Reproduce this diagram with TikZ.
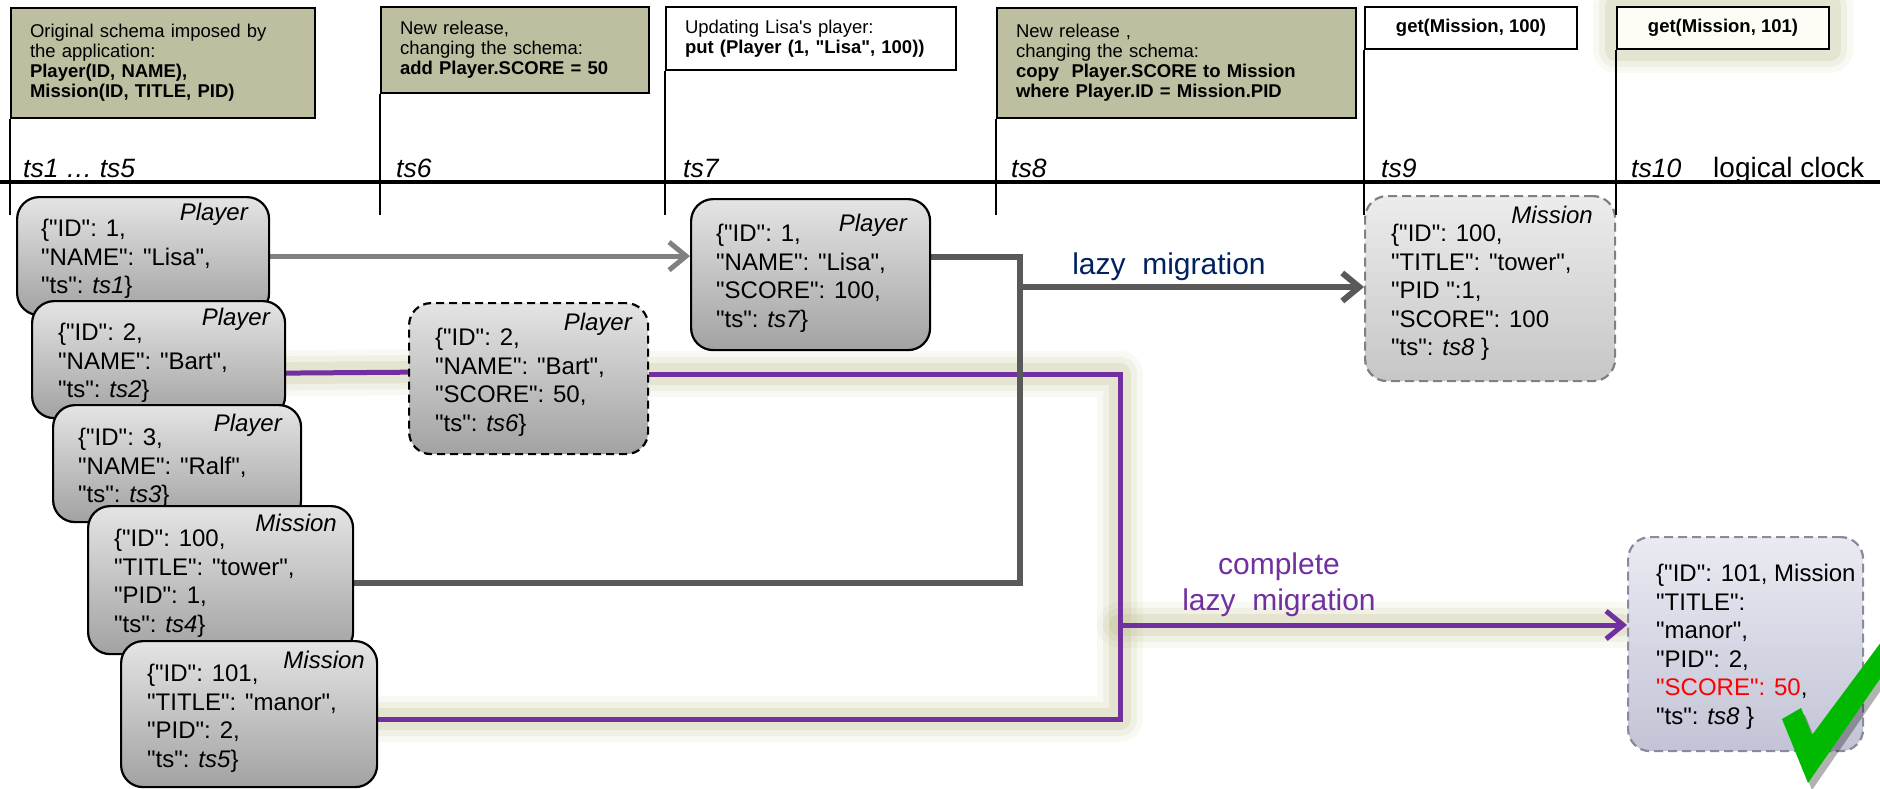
\documentclass[tikz,border=0pt]{standalone}
\usepackage{fontspec}
\setmainfont{Liberation Sans}
\newfontfamily\jf{Liberation Sans}
\usetikzlibrary{arrows.meta}
\pgfdeclarelayer{bg}
\pgfsetlayers{bg,main}
\definecolor{olivebox}{RGB}{190,190,160}
\definecolor{purp}{RGB}{112,48,160}
\definecolor{navy}{RGB}{0,32,96}
\definecolor{glowc}{RGB}{185,185,135}
\definecolor{lgray}{RGB}{128,128,128}
\definecolor{dgray}{RGB}{89,89,89}
\definecolor{chk}{RGB}{0,185,0}
\definecolor{boxtop}{RGB}{228,228,228}
\definecolor{boxbot}{RGB}{162,162,162}
\definecolor{htop}{RGB}{236,236,236}
\definecolor{hbot}{RGB}{198,198,198}
\definecolor{itop}{RGB}{234,234,242}
\definecolor{ibot}{RGB}{194,196,214}
\definecolor{iedge}{RGB}{138,138,158}
\tikzset{
  tbox/.style={draw=black, line width=2pt, fill=olivebox, anchor=north west,
    inner xsep=19pt, inner ysep=0pt, align=left, font=\jf\fontsize{18.5}{20}\selectfont},
  wbox/.style={tbox, fill=white},
  gbox/.style={draw=black, line width=2pt, fill=white, anchor=north west, inner sep=0pt,
    align=center, font=\jf\fontsize{18.5}{20}\selectfont\bfseries},
  tickln/.style={line width=2pt},
  tsl/.style={anchor=base west, inner sep=0pt, font=\jf\fontsize{26.5}{30}\selectfont\itshape},
  dbox/.style={rounded corners=22pt, draw=black, line width=2.2pt, top color=boxtop,
    bottom color=boxbot, anchor=north west, inner sep=0pt},
  hbox/.style={dbox, draw=lgray, dash pattern=on 9pt off 5pt, top color=htop, bottom color=hbot},
  ibox/.style={dbox, draw=iedge, dash pattern=on 9pt off 5pt, top color=itop, bottom color=ibot},
  fbox/.style={dbox, dash pattern=on 8pt off 5pt},
  js/.style={anchor=north west, inner sep=0pt, align=left, font=\jf\fontsize{24}{28.5}\selectfont},
  kind/.style={anchor=base east, inner sep=0pt, font=\jf\fontsize{24}{28}\selectfont\itshape},
  arr/.style={-{Straight Barb[length=17pt,width=28pt]}},
  pline/.style={purp, line width=5pt},
}
\begin{document}
\jf
\begin{tikzpicture}[x=1pt,y=-1pt]
\useasboundingbox (0,0) rectangle (1880,788);

% ---------- top event boxes ----------
\node[tbox, minimum width=304pt, minimum height=110pt, text width=266pt] (s1) at (10,7)
  {Original schema imposed by\\the application:\\\textbf{Player(ID, NAME),}\\\textbf{Mission(ID, TITLE, PID)}};
\node[tbox, minimum width=268pt, minimum height=86pt, text width=230pt] (s2) at (380,6)
  {New release,\\changing the schema:\\\textbf{add Player.SCORE = 50}};
\node[wbox, minimum width=290pt, minimum height=63pt, text width=252pt] (s3) at (665,6)
  {Updating Lisa's player:\\\textbf{put (Player (1, "Lisa", 100))}};
\node[tbox, minimum width=359pt, minimum height=110pt, text width=321pt] (s4) at (996,7)
  {New release ,\\changing the schema:\\\textbf{copy\ \ Player.SCORE to Mission}\\\textbf{where Player.ID = Mission.PID}};
\node[gbox, minimum width=212pt, minimum height=42pt] (s5) at (1364,6) {get(Mission, 100)};

\coordinate (pj) at (1120,625);
\coordinate (gj) at (1020,287);
\coordinate (fin) at (432,372);

% ---------- data boxes ----------
\node[dbox, minimum width=252pt, minimum height=118pt] (A) at (16,196) {};
\node[js] (tA) at (41,219) {\{"ID": 1,\\"NAME": "Lisa",\\"ts": \textit{ts1}\}};
\node[kind] (kA) at (248,220) {Player};

\node[dbox, minimum width=253pt, minimum height=117pt] (B) at (31,300) {};
\node[js] (tB) at (58,323) {\{"ID": 2,\\"NAME": "Bart",\\"ts": \textit{ts2}\}};
\node[kind] (kB) at (270,325) {Player};

\node[dbox, minimum width=248pt, minimum height=117pt] (C) at (52,404) {};
\node[js] (tC) at (78,428) {\{"ID": 3,\\"NAME": "Ralf",\\"ts": \textit{ts3}\}};
\node[kind] (kC) at (282,431) {Player};

\node[dbox, minimum width=265pt, minimum height=148pt] (D) at (87,505) {};
\node[js] (tD) at (114,529) {\{"ID": 100,\\"TITLE": "tower",\\"PID": 1,\\"ts": \textit{ts4}\}};
\node[kind] (kD) at (337,531) {Mission};

\node[dbox, minimum width=256pt, minimum height=146pt] (E) at (120,640) {};
\node[js] (tE) at (147,664) {\{"ID": 101,\\"TITLE": "manor",\\"PID": 2,\\"ts": \textit{ts5}\}};
\node[kind] (kE) at (365,668) {Mission};

\node[fbox, minimum width=239pt, minimum height=151pt] (F) at (408,302) {};
\node[js] (tF) at (435,328) {\{"ID": 2,\\"NAME": "Bart",\\"SCORE": 50,\\"ts": \textit{ts6}\}};
\node[kind] (kF) at (632,330) {Player};

\node[dbox, minimum width=239pt, minimum height=151pt] (G) at (690,198) {};
\node[js] (tG) at (716,224) {\{"ID": 1,\\"NAME": "Lisa",\\"SCORE": 100,\\"ts": \textit{ts7}\}};
\node[kind] (kG) at (907,231) {Player};

\node[hbox, minimum width=250pt, minimum height=185pt] (H) at (1364,195) {};
\node[js] (tH) at (1391,224) {\{"ID": 100,\\"TITLE": "tower",\\"PID ":1,\\"SCORE": 100\\"ts": \textit{ts8} \}};
\node[kind] (kH) at (1593,223) {Mission};

\node[ibox, minimum width=235pt, minimum height=214pt] (I) at (1627,536) {};
\node[js] (tI) at (1656,564) {\{"ID": 101, Mission\\"TITLE":\\"manor",\\"PID": 2,\\\textcolor{red}{"SCORE": 50},\\"ts": \textit{ts8} \}};

% get(Mission,101) box with glow
\node[gbox, minimum width=212pt, minimum height=42pt, fill={rgb,255:red,253;green,253;blue,246}] (s6) at (1616,6) {get(Mission, 101)};

% ---------- background: glows and connectors ----------
\begin{pgfonlayer}{bg}
\foreach \w/\o in {46/0.09, 34/0.14, 22/0.22}{
  \draw[glowc, line width=\w pt, opacity=\o, line join=round, line cap=round]
    ([yshift=-13.5pt]B.east) -- (fin);
  \draw[glowc, line width=\w pt, opacity=\o, line join=round, line cap=round]
    ([yshift=4.5pt]F.east) -| (pj) |- ([yshift=-5pt]E.east);
  \draw[glowc, line width=\w pt, opacity=\o, line join=round, line cap=round]
    (pj) -- ([xshift=-6pt]pj -| I.west);
  \draw[glowc, line width=\w pt, opacity=\o, line join=round]
    (s6.north west) rectangle (s6.south east);
}
\draw[pline, arr] ([yshift=-13.5pt]B.east) -- (fin);
\draw[pline] ([yshift=4.5pt]F.east) -| (pj) |- ([yshift=-5pt]E.east);
\draw[pline, arr] (pj) -- (pj -| I.west);
\draw[lgray, line width=5pt, arr] (A.east) -- (A.east -| G.west);
\draw[dgray, line width=6pt] ([yshift=17.5pt]G.east) -| (gj) |- ([yshift=-3pt]D.east);
\draw[dgray, line width=6pt, arr] (gj) -- (gj -| H.west);
\end{pgfonlayer}

% ---------- timeline ----------
\coordinate (tl0) at (0,182);
\coordinate (tl1) at (1880,182);
\draw[line width=3.5pt] (tl0) -- (tl1);
\coordinate (k1) at (10,215);
\coordinate (k2) at (380,215);
\coordinate (k3) at (665,215);
\coordinate (k4) at (996,215);
\coordinate (k5) at (1364,215);
\coordinate (k6) at (1616,215);
\draw[tickln] (s1.south west) -- (k1);
\draw[tickln] (s2.south west) -- (k2);
\draw[tickln] (s3.south west) -- (k3);
\draw[tickln] (s4.south west) -- (k4);
\draw[tickln] (s5.south west) -- (k5);
\draw[tickln] (s6.south west) -- (k6);

\node[tsl] (l1) at (23,177) {ts1 … ts5};
\node[tsl] (l6) at (396,177) {ts6};
\node[tsl] (l7) at (683,177) {ts7};
\node[tsl] (l8) at (1011,177) {ts8};
\node[tsl] (l9) at (1381,177) {ts9};
\node[tsl] (l10) at (1631,177) {ts10};
\node[anchor=base west, inner sep=0pt, font=\jf\fontsize{28}{32}\selectfont] (lc) at (1713,177) {logical clock};

% ---------- connector labels ----------
\node[inner sep=0pt, font=\jf\fontsize{30}{32}\selectfont, text=navy] (lm) at (1169,267) {lazy\ \ migration};
\node[inner sep=0pt, align=center, font=\jf\fontsize{30}{36}\selectfont, text=purp] (cl) at (1279,585)
  {complete\\lazy\ \ migration};

% ---------- check mark ----------
\fill[black, opacity=0.3] (1786,726) -- (1805,715) -- (1816,742) -- (1897,633) -- (1897,667) -- (1812,790) -- cycle;
\fill[chk] (1782,719) -- (1801,708) -- (1812,735) -- (1893,626) -- (1893,660) -- (1808,783) -- cycle;
\end{tikzpicture}
\end{document}
